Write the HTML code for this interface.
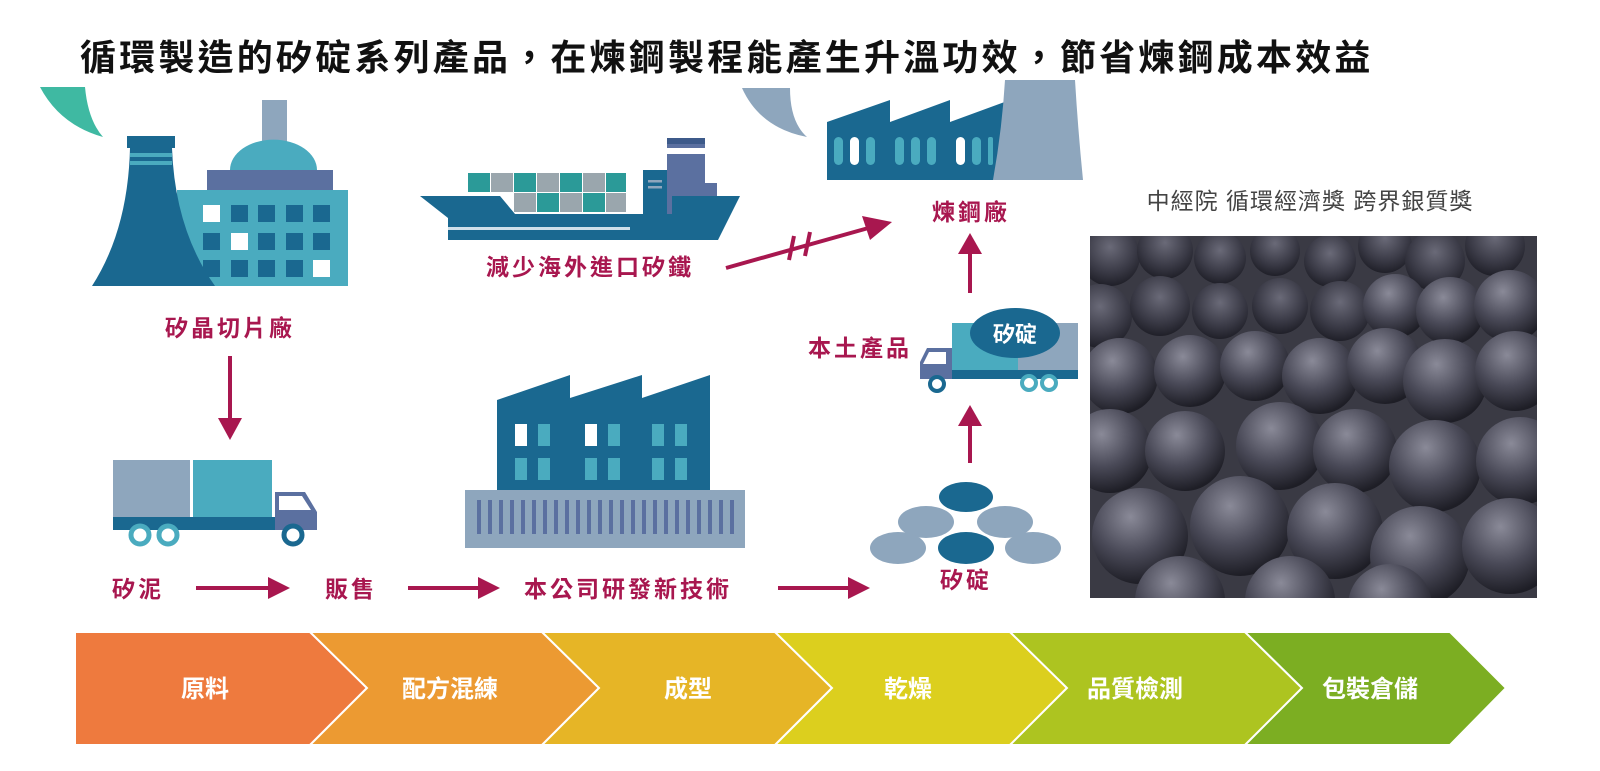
<!DOCTYPE html>
<html><head><meta charset="utf-8">
<style>
html,body{margin:0;padding:0;background:#fff;}
svg{display:block;}
text{font-family:"Liberation Sans","Noto Sans CJK TC",sans-serif;}
.lb{fill:#a8174f;font-size:23px;font-weight:bold;letter-spacing:3px;}
.st{fill:#fff;font-size:24px;font-weight:bold;}
</style></head><body>
<svg width="1600" height="771" viewBox="0 0 1600 771" xmlns="http://www.w3.org/2000/svg">
<defs>
<radialGradient id="pb" cx="0.4" cy="0.3" r="0.7">
<stop offset="0" stop-color="#8a8a98"/><stop offset="0.55" stop-color="#4a4a58"/><stop offset="1" stop-color="#1e1e26"/>
</radialGradient>
<radialGradient id="pb2" cx="0.5" cy="0.35" r="0.7">
<stop offset="0" stop-color="#6a6a78"/><stop offset="0.6" stop-color="#3a3a46"/><stop offset="1" stop-color="#1a1a22"/>
</radialGradient>
<marker id="ah" viewBox="0 0 10 10" refX="8" refY="5" markerWidth="4" markerHeight="4" orient="auto"><path d="M0,0 L10,5 L0,10 Z" fill="#a8174f"/></marker>
</defs>

<text x="80" y="70" font-size="36" font-weight="bold" fill="#111" letter-spacing="3.2">循環製造的矽碇系列產品，在煉鋼製程能產生升溫功效，節省煉鋼成本效益</text>

<!-- green bubble -->
<path d="M40,87 L85,87 Q88,120 103,137 Q60,125 40,87 Z" fill="#3fb9a2"/>
<!-- factory 1 -->
<rect x="262" y="100" width="25" height="50" fill="#8ea6bd"/>
<path d="M230,170 A43,30 0 0 1 317,170 Z" fill="#4aabbf"/>
<rect x="207" y="170" width="126" height="20" fill="#5b70a0"/>
<rect x="177" y="190" width="171" height="96" fill="#4aabbf"/>
<path d="M130,148 L172,148 Q175,230 215,286 L92,286 Q128,230 130,148 Z" fill="#1a6890"/>
<rect x="127" y="136" width="48" height="12" fill="#1a6890"/>
<rect x="130" y="153" width="42" height="4" fill="#4aabbf"/>
<rect x="130" y="161" width="42" height="4" fill="#4aabbf"/>
<g fill="#1a6890">
<rect x="203" y="205" width="17" height="17" fill="#fff"/><rect x="231" y="205" width="17" height="17"/><rect x="258" y="205" width="17" height="17"/><rect x="286" y="205" width="17" height="17"/><rect x="313" y="205" width="17" height="17"/>
<rect x="203" y="233" width="17" height="17"/><rect x="231" y="233" width="17" height="17" fill="#fff"/><rect x="258" y="233" width="17" height="17"/><rect x="286" y="233" width="17" height="17"/><rect x="313" y="233" width="17" height="17"/>
<rect x="203" y="260" width="17" height="17"/><rect x="231" y="260" width="17" height="17"/><rect x="258" y="260" width="17" height="17"/><rect x="286" y="260" width="17" height="17"/><rect x="313" y="260" width="17" height="17" fill="#fff"/>
</g>
<text x="230" y="336" class="lb" text-anchor="middle">矽晶切片廠</text>
<line x1="230" y1="356" x2="230" y2="420" stroke="#a8174f" stroke-width="4"/>
<path d="M218,418 L242,418 L230,440 Z" fill="#a8174f"/>

<!-- truck 1 -->
<rect x="113" y="460" width="77" height="57" fill="#8ea6bd"/>
<rect x="193" y="460" width="79" height="57" fill="#4aabbf"/>
<rect x="113" y="517" width="162" height="13" fill="#1a6890"/>
<path d="M275,492 L305,492 L317,512 L317,530 L275,530 Z" fill="#5b70a0"/>
<path d="M279,496 L302,496 L311,510 L279,510 Z" fill="#fff"/>
<circle cx="140" cy="535" r="9" fill="#fff" stroke="#4aabbf" stroke-width="5"/>
<circle cx="168" cy="535" r="9" fill="#fff" stroke="#4aabbf" stroke-width="5"/>
<circle cx="293" cy="535" r="9" fill="#fff" stroke="#1a6890" stroke-width="5"/>

<!-- ship -->
<g>
<rect x="468" y="173" width="22" height="19" fill="#2b9a98"/><rect x="491" y="173" width="22" height="19" fill="#9aa6ad"/><rect x="514" y="173" width="22" height="19" fill="#2b9a98"/><rect x="537" y="173" width="22" height="19" fill="#9aa6ad"/><rect x="560" y="173" width="22" height="19" fill="#2b9a98"/><rect x="583" y="173" width="22" height="19" fill="#9aa6ad"/><rect x="606" y="173" width="20" height="19" fill="#2b9a98"/>
<rect x="514" y="193" width="22" height="19" fill="#9aa6ad"/><rect x="537" y="193" width="22" height="19" fill="#2b9a98"/><rect x="560" y="193" width="22" height="19" fill="#9aa6ad"/><rect x="583" y="193" width="22" height="19" fill="#2b9a98"/><rect x="606" y="193" width="20" height="19" fill="#9aa6ad"/>
<rect x="643" y="170" width="26" height="45" fill="#1a6890"/>
<rect x="648" y="180" width="14" height="2.5" fill="#8ea6bd"/><rect x="648" y="186" width="14" height="2.5" fill="#8ea6bd"/>
<rect x="667" y="138" width="38" height="77" fill="#5b70a0"/>
<rect x="667" y="138" width="38" height="6" fill="#3d5a8a"/>
<rect x="667" y="148" width="38" height="6" fill="#fff"/>
<rect x="705" y="183" width="12" height="30" fill="#5b70a0"/>
<path d="M420,196 L500,196 L515,214 L672,214 L672,196 L740,196 L718,240 L448,240 L448,218 Z" fill="#1a6890"/>
<rect x="448" y="227" width="182" height="3" fill="#cfe0ea"/>
</g>
<text x="590" y="275" class="lb" text-anchor="middle">減少海外進口矽鐵</text>
<!-- arrow with break -->
<line x1="726" y1="268" x2="872" y2="227" stroke="#a8174f" stroke-width="4"/>
<path d="M862,216 L892,222 L870,240 Z" fill="#a8174f"/>
<line x1="794" y1="236" x2="789" y2="260" stroke="#a8174f" stroke-width="4"/>
<line x1="810" y1="232" x2="805" y2="256" stroke="#a8174f" stroke-width="4"/>

<!-- gray bubble -->
<path d="M742,88 L790,88 Q790,122 807,137 Q760,128 742,88 Z" fill="#8ea6bd"/>
<!-- steel factory -->
<path d="M827,122 L890,100 L890,122 L950,100 L950,122 L1010,100 L1010,180 L827,180 Z" fill="#1a6890"/>
<path d="M1005,80 L1075,80 Q1078,130 1083,180 L993,180 Q1002,130 1005,80 Z" fill="#8ea6bd"/>
<g fill="#4aabbf">
<rect x="834" y="137" width="9" height="28" rx="4.5"/><rect x="850" y="137" width="9" height="28" rx="4.5" fill="#fff"/><rect x="866" y="137" width="9" height="28" rx="4.5"/>
<rect x="895" y="137" width="9" height="28" rx="4.5"/><rect x="911" y="137" width="9" height="28" rx="4.5"/><rect x="927" y="137" width="9" height="28" rx="4.5"/>
<rect x="956" y="137" width="9" height="28" rx="4.5" fill="#fff"/><rect x="972" y="137" width="9" height="28" rx="4.5"/><rect x="988" y="137" width="5" height="28" rx="2"/>
</g>
<text x="971" y="220" class="lb" text-anchor="middle">煉鋼廠</text>
<line x1="970" y1="293" x2="970" y2="250" stroke="#a8174f" stroke-width="4"/>
<path d="M958,254 L982,254 L970,233 Z" fill="#a8174f"/>

<!-- truck 2 -->
<rect x="952" y="323" width="126" height="47" fill="#8ea6bd"/>
<rect x="952" y="323" width="66" height="47" fill="#4aabbf"/>
<ellipse cx="1015" cy="333" rx="45" ry="25" fill="#1a6890"/>
<text x="1015" y="342" font-size="22" font-weight="bold" fill="#fff" text-anchor="middle">矽碇</text>
<rect x="952" y="370" width="126" height="9" fill="#1a6890"/>
<path d="M927,348 L952,348 L952,379 L920,379 L920,362 Z" fill="#5b70a0"/>
<path d="M929,352 L946,352 L946,364 L923,364 Z" fill="#fff"/>
<circle cx="937" cy="384" r="7" fill="#fff" stroke="#1a6890" stroke-width="4"/>
<circle cx="1029" cy="383" r="7" fill="#fff" stroke="#4aabbf" stroke-width="4"/>
<circle cx="1049" cy="383" r="7" fill="#fff" stroke="#4aabbf" stroke-width="4"/>
<text x="860" y="356" class="lb" text-anchor="middle">本土產品</text>
<line x1="970" y1="463" x2="970" y2="422" stroke="#a8174f" stroke-width="4"/>
<path d="M958,426 L982,426 L970,405 Z" fill="#a8174f"/>

<!-- pellets -->
<ellipse cx="966" cy="497" rx="27" ry="15" fill="#1a6890"/>
<ellipse cx="926" cy="522" rx="28" ry="16" fill="#8ea6bd"/>
<ellipse cx="1005" cy="522" rx="28" ry="16" fill="#8ea6bd"/>
<ellipse cx="898" cy="548" rx="28" ry="16" fill="#8ea6bd"/>
<ellipse cx="1033" cy="548" rx="28" ry="16" fill="#8ea6bd"/>
<ellipse cx="966" cy="548" rx="28" ry="16" fill="#1a6890"/>
<text x="966" y="588" class="lb" text-anchor="middle">矽碇</text>

<!-- factory 3 -->
<path d="M497,400 L570,375 L570,398 L642,375 L642,398 L710,375 L710,492 L497,492 Z" fill="#1a6890"/>
<g fill="#4aabbf">
<rect x="515" y="424" width="12" height="22" fill="#fff"/><rect x="538" y="424" width="12" height="22"/><rect x="585" y="424" width="12" height="22" fill="#fff"/><rect x="608" y="424" width="12" height="22"/><rect x="652" y="424" width="12" height="22"/><rect x="675" y="424" width="12" height="22"/>
<rect x="515" y="458" width="12" height="22"/><rect x="538" y="458" width="12" height="22"/><rect x="585" y="458" width="12" height="22"/><rect x="608" y="458" width="12" height="22"/><rect x="652" y="458" width="12" height="22"/><rect x="675" y="458" width="12" height="22"/>
</g>
<rect x="465" y="490" width="280" height="58" fill="#8ea6bd"/>
<g fill="#5b70a0">
<rect x="477" y="500" width="4" height="34"/><rect x="488" y="500" width="4" height="34"/><rect x="499" y="500" width="4" height="34"/><rect x="510" y="500" width="4" height="34"/><rect x="521" y="500" width="4" height="34"/><rect x="532" y="500" width="4" height="34"/><rect x="543" y="500" width="4" height="34"/><rect x="554" y="500" width="4" height="34"/><rect x="565" y="500" width="4" height="34"/><rect x="576" y="500" width="4" height="34"/><rect x="587" y="500" width="4" height="34"/><rect x="598" y="500" width="4" height="34"/><rect x="609" y="500" width="4" height="34"/><rect x="620" y="500" width="4" height="34"/><rect x="631" y="500" width="4" height="34"/><rect x="642" y="500" width="4" height="34"/><rect x="653" y="500" width="4" height="34"/><rect x="664" y="500" width="4" height="34"/><rect x="675" y="500" width="4" height="34"/><rect x="686" y="500" width="4" height="34"/><rect x="697" y="500" width="4" height="34"/><rect x="708" y="500" width="4" height="34"/><rect x="719" y="500" width="4" height="34"/><rect x="730" y="500" width="4" height="34"/>
</g>

<!-- bottom row -->
<text x="138" y="597" class="lb" text-anchor="middle">矽泥</text>
<line x1="196" y1="588" x2="272" y2="588" stroke="#a8174f" stroke-width="4"/><path d="M268,577 L290,588 L268,599 Z" fill="#a8174f"/>
<text x="351" y="597" class="lb" text-anchor="middle">販售</text>
<line x1="408" y1="588" x2="482" y2="588" stroke="#a8174f" stroke-width="4"/><path d="M478,577 L500,588 L478,599 Z" fill="#a8174f"/>
<text x="628" y="597" class="lb" text-anchor="middle">本公司研發新技術</text>
<line x1="778" y1="588" x2="852" y2="588" stroke="#a8174f" stroke-width="4"/><path d="M848,577 L870,588 L848,599 Z" fill="#a8174f"/>

<!-- award -->
<text x="1310" y="209" font-size="23" fill="#444" text-anchor="middle" letter-spacing="1">中經院 循環經濟獎 跨界銀質獎</text>

<!-- photo -->
<svg x="1090" y="236" width="447" height="362" viewBox="0 0 447 362">
<rect width="447" height="362" fill="#3a3a44"/>
<g fill="url(#pb2)">
<circle cx="20" cy="20" r="30"/><circle cx="75" cy="15" r="28"/><circle cx="130" cy="22" r="26"/><circle cx="185" cy="15" r="25"/><circle cx="240" cy="25" r="26"/><circle cx="295" cy="10" r="27"/><circle cx="345" cy="25" r="30"/><circle cx="405" cy="10" r="30"/>
<circle cx="10" cy="80" r="32"/><circle cx="70" cy="70" r="30"/><circle cx="130" cy="75" r="28"/><circle cx="190" cy="70" r="28"/><circle cx="250" cy="75" r="30"/>
</g>
<g fill="url(#pb)">
<circle cx="305" cy="70" r="32"/><circle cx="360" cy="75" r="34"/><circle cx="420" cy="70" r="36"/>
<circle cx="30" cy="140" r="38"/><circle cx="100" cy="135" r="36"/><circle cx="165" cy="130" r="35"/><circle cx="230" cy="140" r="38"/><circle cx="295" cy="130" r="38"/><circle cx="355" cy="145" r="42"/><circle cx="425" cy="135" r="40"/>
<circle cx="20" cy="215" r="42"/><circle cx="95" cy="215" r="40"/><circle cx="190" cy="210" r="44"/><circle cx="265" cy="215" r="42"/><circle cx="345" cy="230" r="46"/><circle cx="430" cy="225" r="44"/>
<circle cx="50" cy="300" r="48"/><circle cx="150" cy="290" r="50"/><circle cx="245" cy="295" r="48"/><circle cx="330" cy="320" r="50"/><circle cx="420" cy="310" r="48"/>
<circle cx="90" cy="365" r="45"/><circle cx="200" cy="365" r="45"/><circle cx="300" cy="370" r="42"/>
</g>
</svg>

<!-- chevron band -->
<g stroke="#fff" stroke-width="2">
<path d="M75,632 L310,632 L367,688 L310,745 L75,745 Z" fill="#ee7a3e"/>
<path d="M310,632 L542,632 L599,688 L542,745 L310,745 L367,688 Z" fill="#ec9a32"/>
<path d="M542,632 L775,632 L832,688 L775,745 L542,745 L599,688 Z" fill="#e6b526"/>
<path d="M775,632 L1010,632 L1067,688 L1010,745 L775,745 L832,688 Z" fill="#dccf1e"/>
<path d="M1010,632 L1245,632 L1302,688 L1245,745 L1010,745 L1067,688 Z" fill="#adc420"/>
<path d="M1245,632 L1450,632 L1506,688 L1450,745 L1245,745 L1302,688 Z" fill="#7cae22"/>
</g>
<text x="205" y="697" class="st" text-anchor="middle">原料</text>
<text x="450" y="697" class="st" text-anchor="middle">配方混練</text>
<text x="688" y="697" class="st" text-anchor="middle">成型</text>
<text x="908" y="697" class="st" text-anchor="middle">乾燥</text>
<text x="1135" y="697" class="st" text-anchor="middle">品質檢測</text>
<text x="1370" y="697" class="st" text-anchor="middle">包裝倉儲</text>
</svg>
</body></html>
